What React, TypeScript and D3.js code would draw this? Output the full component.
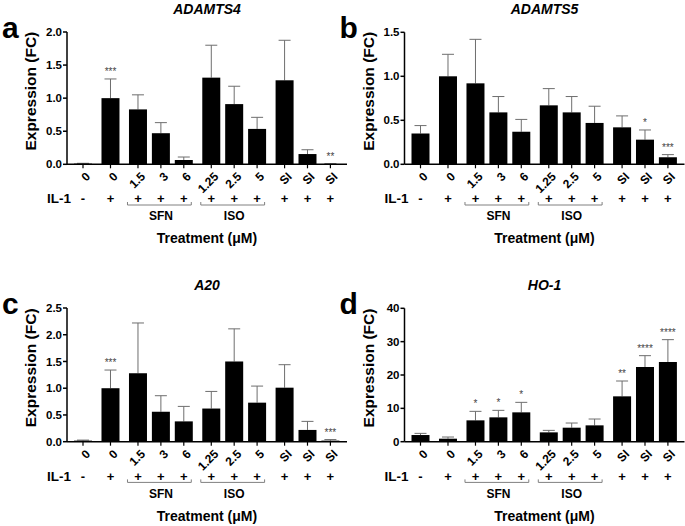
import React from 'react';
import * as d3 from 'd3';

// treatment categories shared by all four panels
const categories = ['0', '0', '1.5', '3', '6', '1.25', '2.5', '5', 'SI', 'SI', 'SI'];
const il1Row = ['-', '+', '+', '+', '+', '+', '+', '+', '+', '+', '+'];
const groupOf = [0, 1, 2, 2, 2, 3, 3, 3, 4, 4, 4];
const brackets = [
  { label: 'SFN', from: 2, to: 4 },
  { label: 'ISO', from: 5, to: 7 },
];

// mean and SEM (upper error) per gene
const adamts4Mean = [0.01, 1.0, 0.83, 0.47, 0.065, 1.31, 0.91, 0.535, 1.27, 0.155, 0.005];
const adamts4Err = [0.005, 0.29, 0.22, 0.16, 0.045, 0.49, 0.27, 0.175, 0.605, 0.065, 0.005];
const adamts4Sig = ['', '***', '', '', '', '', '', '', '', '', '**'];

const adamts5Mean = [0.35, 1.0, 0.92, 0.59, 0.37, 0.67, 0.59, 0.47, 0.42, 0.28, 0.08];
const adamts5Err = [0.09, 0.25, 0.5, 0.18, 0.14, 0.19, 0.18, 0.19, 0.13, 0.11, 0.03];
const adamts5Sig = ['', '', '', '', '', '', '', '', '', '*', '***'];

const a20Mean = [0.02, 1.0, 1.28, 0.56, 0.38, 0.62, 1.5, 0.73, 1.01, 0.22, 0.02];
const a20Err = [0.01, 0.34, 0.94, 0.3, 0.28, 0.32, 0.61, 0.31, 0.43, 0.16, 0.02];
const a20Sig = ['', '***', '', '', '', '', '', '', '', '', '***'];

const ho1Mean = [2.0, 0.9, 6.4, 7.3, 8.8, 2.8, 4.2, 4.9, 13.6, 22.4, 23.9];
const ho1Err = [0.5, 0.5, 2.7, 2.1, 3.0, 0.6, 1.4, 1.9, 4.6, 3.4, 6.7];
const ho1Sig = ['', '', '*', '*', '*', '', '', '', '**', '****', '****'];

const FONT = "'Liberation Sans', Arial, Helvetica, sans-serif";
const GAP = 0.2; // extra space between treatment groups, in bar slots

type PanelProps = {
  letter: string;
  title: string;
  mean: number[];
  err: number[];
  sig: string[];
  max: number;
  tickStep: number;
  decimals: number;
  dx: number;
  top: number;
  zero: number;
};

const Panel = ({ letter, title, mean, err, sig, max, tickStep, decimals, dx, top, zero }: PanelProps) => {
  const axisX = 67 + dx;
  const axisEnd = axisX + 280;
  const y = d3.scaleLinear().domain([0, max]).range([zero, top]);
  const slots = categories.map((_, i) => i + groupOf[i] * GAP);
  const x = d3.scaleLinear().domain([0, slots[slots.length - 1]]).range([axisX + 16, axisX + 263.4]);
  const cx = (i: number) => x(slots[i]);
  const barW = 18;
  const ticks = d3.range(0, max + tickStep / 2, tickStep);
  const fmt = d3.format(`.${decimals}f`);

  return (
    <g fontFamily={FONT}>
      <text x={dx + 2} y={top + 6} fontSize={30} fontWeight="bold">{letter}</text>
      <text x={axisX + 140} y={top - 18} fontSize={14} fontWeight="bold" fontStyle="italic" textAnchor="middle">
        {title}
      </text>
      <text
        transform={`translate(${dx + 36},${(top + zero) / 2 - 7}) rotate(-90)`}
        fontSize={15.5}
        fontWeight="bold"
        textAnchor="middle"
      >
        Expression (FC)
      </text>

      {/* y axis */}
      <line x1={axisX} x2={axisX} y1={top} y2={zero} stroke="#000" strokeWidth={1.5} />
      {ticks.map((t) => (
        <g key={t}>
          <line x1={axisX - 4} x2={axisX} y1={y(t)} y2={y(t)} stroke="#000" strokeWidth={1.5} />
          <text x={axisX - 5} y={y(t)} dy="0.35em" fontSize={11.5} fontWeight="bold" textAnchor="end">
            {fmt(t)}
          </text>
        </g>
      ))}

      {/* bars + error bars */}
      {mean.map((m, i) => {
        const top2 = y(m + err[i]);
        return (
          <g key={i}>
            <line x1={cx(i)} x2={cx(i)} y1={y(m)} y2={top2} stroke="#6e6e6e" strokeWidth={1} />
            <line x1={cx(i) - 6} x2={cx(i) + 6} y1={top2} y2={top2} stroke="#6e6e6e" strokeWidth={1} />
            <rect x={cx(i) - barW / 2} y={y(m)} width={barW} height={Math.max(zero - y(m), 0.8)} fill="#000" />
            {sig[i] && (
              <text x={cx(i)} y={top2 - 4} fontSize={10} fill="#444" textAnchor="middle">
                {sig[i]}
              </text>
            )}
          </g>
        );
      })}

      {/* x axis */}
      <line x1={axisX} x2={axisEnd} y1={zero} y2={zero} stroke="#000" strokeWidth={1.5} />
      {categories.map((c, i) => (
        <g key={i}>
          <line x1={cx(i)} x2={cx(i)} y1={zero} y2={zero + 4} stroke="#000" strokeWidth={1.2} />
          <text
            transform={`translate(${cx(i) + 5},${zero + 10}) rotate(-45)`}
            fontSize={12}
            fontWeight="bold"
            textAnchor="end"
            dy="0.35em"
          >
            {c}
          </text>
          <text x={cx(i)} y={zero + 39} fontSize={13} fontWeight="bold" textAnchor="middle">
            {il1Row[i]}
          </text>
        </g>
      ))}
      <text x={axisX + 4} y={zero + 39} fontSize={13.5} fontWeight="bold" textAnchor="end">IL-1</text>

      {brackets.map((b) => {
        const x1 = cx(b.from) - 10.5;
        const x2 = cx(b.to) + 7.5;
        const by = zero + 40.7;
        return (
          <g key={b.label}>
            <path d={`M${x1},${by - 3}V${by}H${x2}V${by - 3}`} fill="none" stroke="#808080" strokeWidth={1} />
            <text x={cx(b.from + 1)} y={zero + 56} fontSize={12} fontWeight="bold" textAnchor="middle">
              {b.label}
            </text>
          </g>
        );
      })}

      <text x={axisX + 140} y={zero + 79} fontSize={14} fontWeight="bold" textAnchor="middle">
        Treatment (μM)
      </text>
    </g>
  );
};

const App = () => (
  <svg width={685} height={526} style={{ position: 'absolute', left: 0, top: 0, background: '#fff' }}>
    <Panel letter="a" title="ADAMTS4" mean={adamts4Mean} err={adamts4Err} sig={adamts4Sig}
      max={2} tickStep={0.5} decimals={1} dx={0} top={32} zero={164.3} />
    <Panel letter="b" title="ADAMTS5" mean={adamts5Mean} err={adamts5Err} sig={adamts5Sig}
      max={1.5} tickStep={0.5} decimals={1} dx={337.5} top={32.3} zero={164.3} />
    <Panel letter="c" title="A20" mean={a20Mean} err={a20Err} sig={a20Sig}
      max={2.5} tickStep={0.5} decimals={1} dx={0} top={308} zero={441.7} />
    <Panel letter="d" title="HO-1" mean={ho1Mean} err={ho1Err} sig={ho1Sig}
      max={40} tickStep={10} decimals={0} dx={337.5} top={308.3} zero={441.7} />
  </svg>
);

export default App;
